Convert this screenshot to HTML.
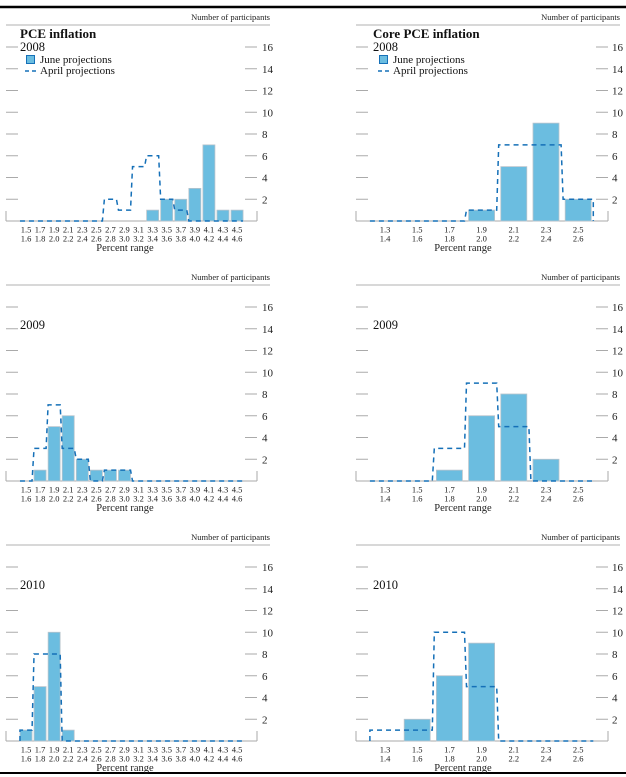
<!DOCTYPE html>
<html><head><meta charset="utf-8"><style>
body{margin:0;background:#fff;}
svg{display:block;font-family:"Liberation Serif",serif;}
</style></head><body>
<svg id="c" width="626" height="777" viewBox="0 0 626 777">
<line x1="0" y1="7" x2="626" y2="7" stroke="#000" stroke-width="2.5"/>
<line x1="0" y1="773" x2="626" y2="773" stroke="#000" stroke-width="2"/>
</svg>
<script>
const pceBins = ["1.5","1.7","1.9","2.1","2.3","2.5","2.7","2.9","3.1","3.3","3.5","3.7","3.9","4.1","4.3","4.5"];
const pceBins2 = ["1.6","1.8","2.0","2.2","2.4","2.6","2.8","3.0","3.2","3.4","3.6","3.8","4.0","4.2","4.4","4.6"];
const coreBins = ["1.3","1.5","1.7","1.9","2.1","2.3","2.5"];
const coreBins2 = ["1.4","1.6","1.8","2.0","2.2","2.4","2.6"];
const pce2008June = [0,0,0,0,0,0,0,0,0,1,2,2,3,7,1,1];
const pce2008April = [0,0,0,0,0,0,2,1,5,6,2,1,0,0,0,0];
const pce2009June = [0,1,5,6,2,1,1,1,0,0,0,0,0,0,0,0];
const pce2009April = [0,3,7,3,2,0,1,1,0,0,0,0,0,0,0,0];
const pce2010June = [1,5,10,1,0,0,0,0,0,0,0,0,0,0,0,0];
const pce2010April = [1,8,8,0,0,0,0,0,0,0,0,0,0,0,0,0];
const core2008June = [0,0,0,1,5,9,2];
const core2008April = [0,0,0,1,7,7,2];
const core2009June = [0,0,1,6,8,2,0];
const core2009April = [0,0,3,9,5,0,0];
const core2010June = [0,2,6,9,0,0,0];
const core2010April = [1,1,10,5,0,0,0];
const yTicks = [2,4,6,8,10,12,14,16];

const svg = document.getElementById('c');
const NS = 'http://www.w3.org/2000/svg';
function mk(tag, attrs, parent){const e=document.createElementNS(NS,tag);for(const k in attrs)e.setAttribute(k,attrs[k]);(parent||svg).appendChild(e);return e;}
function txt(s, attrs, parent){const e=mk('text',attrs,parent);e.textContent=s;return e;}

const panels = [
 {x0:6,x1:257,c0:26,step:14.07,bw:12,b1:pceBins,b2:pceBins2,title:'PCE inflation',tx:20,lab:262,num:270,pr:125},
 {x0:356,x1:608,c0:385,step:32.2,bw:26,b1:coreBins,b2:coreBins2,title:'Core PCE inflation',tx:373,lab:612,num:620,pr:463}
];
const rows = [
 {B:221,year:'2008',yy:51,data:[[pce2008June,pce2008April],[core2008June,core2008April]]},
 {B:481,year:'2009',yy:329,data:[[pce2009June,pce2009April],[core2009June,core2009April]]},
 {B:741,year:'2010',yy:589,data:[[pce2010June,pce2010April],[core2010June,core2010April]]}
];
const U = 10.875;
rows.forEach((r,ri)=>{
 panels.forEach((p,pi)=>{
  const g = mk('g',{});
  
  
  const yS = v => r.B - v*U;
  const xC = i => p.c0 + i*p.step;
  const top = r.B-196;
  mk('line',{x1:p.x0,y1:top,x2:p.num,y2:top,stroke:'#999','stroke-width':0.8},g);
  const n = txt('Number of participants',{x:p.num,y:top-5,'font-size':8.5,'text-anchor':'end',fill:'#222'},g);
  
  
  yTicks.forEach(t=>{
   const y=yS(t);
   mk('line',{x1:p.x0,y1:y,x2:p.x0+12,y2:y,stroke:'#aaa','stroke-width':1},g);
   mk('line',{x1:p.x1-12,y1:y,x2:p.x1,y2:y,stroke:'#aaa','stroke-width':1},g);
   const tl = txt(String(t),{x:p.lab,y:y+4,'font-size':11,fill:'#222'},g);
   
   
  });
  mk('line',{x1:p.x0,y1:r.B,x2:p.x1,y2:r.B,stroke:'#aaa','stroke-width':1},g);
  mk('line',{x1:p.x0,y1:r.B,x2:p.x0,y2:r.B-10,stroke:'#aaa','stroke-width':1},g);
  mk('line',{x1:p.x1,y1:r.B,x2:p.x1,y2:r.B-10,stroke:'#aaa','stroke-width':1},g);
  const june=r.data[pi][0], april=r.data[pi][1];
  june.forEach((v,i)=>{
   if(v<=0) return;
   const b = mk('rect',{x:xC(i)-p.bw/2,y:yS(v),width:p.bw,height:v*U,fill:'#6bbde0',stroke:'#b8c4cc','stroke-width':0.8},g);
   
   
  });
  let d='';
  const half=p.step/2;
  april.forEach((v,i)=>{
   const xl=xC(i)-half+1, xr=xC(i)+half-1;
   d += (i===0?'M'+xl+','+r.B+' L':' L')+xl+','+yS(v)+' L'+xr+','+yS(v);
  });
  d += ' L'+(xC(april.length-1)+half-1)+','+r.B;
  const a = mk('path',{d:d,fill:'none',stroke:'#1570b8','stroke-width':1.5,'stroke-dasharray':'5,4'},g);
  
  
  p.b1.forEach((s,i)=>{
   const t1=txt(s,{x:xC(i),y:r.B+11.5,'font-size':8.5,'text-anchor':'middle',fill:'#222'},g);
   
   
   const t2=txt(p.b2[i],{x:xC(i),y:r.B+20.5,'font-size':8.5,'text-anchor':'middle',fill:'#222'},g);
   
   
  });
  const pr=txt('Percent range',{x:p.pr,y:r.B+30,'font-size':10.5,'text-anchor':'middle',fill:'#222'},g);
  
  
  const yr=txt(r.year,{x:p.tx,y:r.yy,'font-size':12.5,fill:'#111'},g);
  
  
  if(ri===0){
   const tt=txt(p.title,{x:p.tx,y:38,'font-size':13,'font-weight':'bold',fill:'#111'},g);
   
   
   const lg = mk('g',{},g);
   
   
   mk('rect',{x:p.tx+6.5,y:55.5,width:8,height:8,fill:'#6bbde0',stroke:'#1570b8','stroke-width':1},lg);
   txt('June projections',{x:p.tx+20,y:63,'font-size':11,fill:'#111'},lg);
   mk('line',{x1:p.tx+5,y1:71,x2:p.tx+16,y2:71,stroke:'#1570b8','stroke-width':1.5,'stroke-dasharray':'4,3'},lg);
   txt('April projections',{x:p.tx+20,y:74,'font-size':11,fill:'#111'},lg);
  }
 });
});
</script>
</body></html>
